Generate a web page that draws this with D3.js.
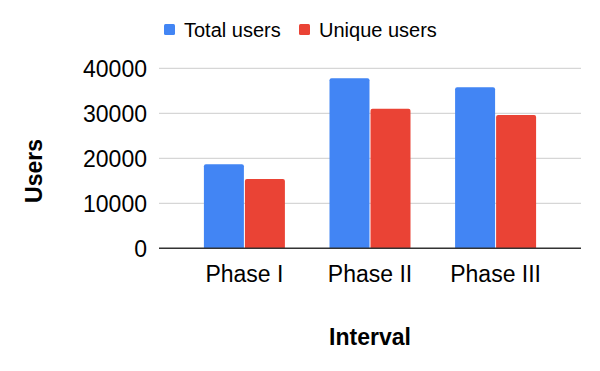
<!DOCTYPE html>
<html lang="en">
<head>
<meta charset="utf-8">
<title>Users by interval</title>
<style>
    body { margin: 0; background: #fff; }
    text { font-family: "Liberation Sans", Arial, sans-serif; fill: #000; }
</style>
</head>
<body>
<svg id="chart" width="600" height="371"></svg>
<script src="https://cdn.jsdelivr.net/npm/d3@7"></script>
<script>
    var categories = ["Phase I", "Phase II", "Phase III"];
    var seriesNames = ["Total users", "Unique users"];
    var totalUsers = [18700, 37800, 35800];
    var uniqueUsers = [15400, 31000, 29600];
    var yTicks = [0, 10000, 20000, 30000, 40000];
    var colors = ["#4285f4", "#ea4335"];

    var svg = d3.select("#chart");
    var plotLeft = 159, plotRight = 581, plotTop = 68.3, plotBottom = 248.3;

    var y = d3.scaleLinear().domain([0, 40000]).range([plotBottom, plotTop]);
    var x = d3.scaleBand().domain(categories).range([plotLeft, plotRight])
        .paddingInner(0).paddingOuter(0.18);
    var groupW = 81;
    var xs = d3.scaleBand().domain(seriesNames)
        .range([(x.bandwidth() - groupW) / 2, (x.bandwidth() + groupW) / 2])
        .paddingInner(1 / 40.5);

    // gridlines
    svg.append("g").selectAll("line")
        .data(yTicks.slice(1))
        .enter().append("line")
        .attr("x1", plotLeft).attr("x2", plotRight)
        .attr("y1", function(d) { return y(d); })
        .attr("y2", function(d) { return y(d); })
        .attr("stroke", "#cccccc").attr("stroke-width", 1);

    // y tick labels
    svg.append("g").selectAll("text")
        .data(yTicks)
        .enter().append("text")
        .attr("x", 147)
        .attr("y", function(d) { return y(d); })
        .attr("dy", "0.36em")
        .attr("text-anchor", "end")
        .attr("font-size", "23px")
        .text(function(d) { return d; });

    // bars
    var rows = categories.map(function(c, i) {
        return { cat: c, vals: [totalUsers[i], uniqueUsers[i]] };
    });
    function barPath(x0, w, y0, y1, r) {
        return "M" + x0 + "," + y1 +
            "V" + (y0 + r) +
            "Q" + x0 + "," + y0 + " " + (x0 + r) + "," + y0 +
            "H" + (x0 + w - r) +
            "Q" + (x0 + w) + "," + y0 + " " + (x0 + w) + "," + (y0 + r) +
            "V" + y1 + "Z";
    }
    var groups = svg.append("g").selectAll("g")
        .data(rows)
        .enter().append("g")
        .attr("transform", function(d) { return "translate(" + x(d.cat) + ",0)"; });
    groups.selectAll("path")
        .data(function(d) { return d.vals.map(function(v, j) { return { name: seriesNames[j], v: v, j: j }; }); })
        .enter().append("path")
        .attr("d", function(d) {
            return barPath(xs(d.name), xs.bandwidth(), y(d.v), y(0), 2);
        })
        .attr("fill", function(d) { return colors[d.j]; });

    // baseline
    svg.append("line")
        .attr("x1", plotLeft).attr("x2", plotRight)
        .attr("y1", y(0)).attr("y2", y(0))
        .attr("stroke", "#333333").attr("stroke-width", 1.5);

    // x labels
    svg.append("g").selectAll("text")
        .data(categories)
        .enter().append("text")
        .attr("x", function(d) { return x(d) + x.bandwidth() / 2; })
        .attr("y", 281.5)
        .attr("text-anchor", "middle")
        .attr("font-size", "23px")
        .text(function(d) { return d; });

    // axis titles
    svg.append("text")
        .attr("x", 370).attr("y", 345)
        .attr("text-anchor", "middle")
        .attr("font-size", "23px").attr("font-weight", "bold")
        .text("Interval");
    svg.append("text")
        .attr("transform", "translate(42,171) rotate(-90)")
        .attr("text-anchor", "middle")
        .attr("font-size", "23px").attr("font-weight", "bold")
        .text("Users");

    // legend
    var legendX = [164, 299];
    var legend = svg.append("g").selectAll("g")
        .data(seriesNames)
        .enter().append("g")
        .attr("transform", function(d, i) { return "translate(" + legendX[i] + ",24)"; });
    legend.append("rect")
        .attr("width", 11).attr("height", 11).attr("rx", 1.5)
        .attr("fill", function(d, i) { return colors[i]; });
    legend.append("text")
        .attr("x", 20).attr("y", 5.5).attr("dy", "0.36em")
        .attr("font-size", "20px").attr("fill", "#222")
        .text(function(d) { return d; });
</script>
</body>
</html>
